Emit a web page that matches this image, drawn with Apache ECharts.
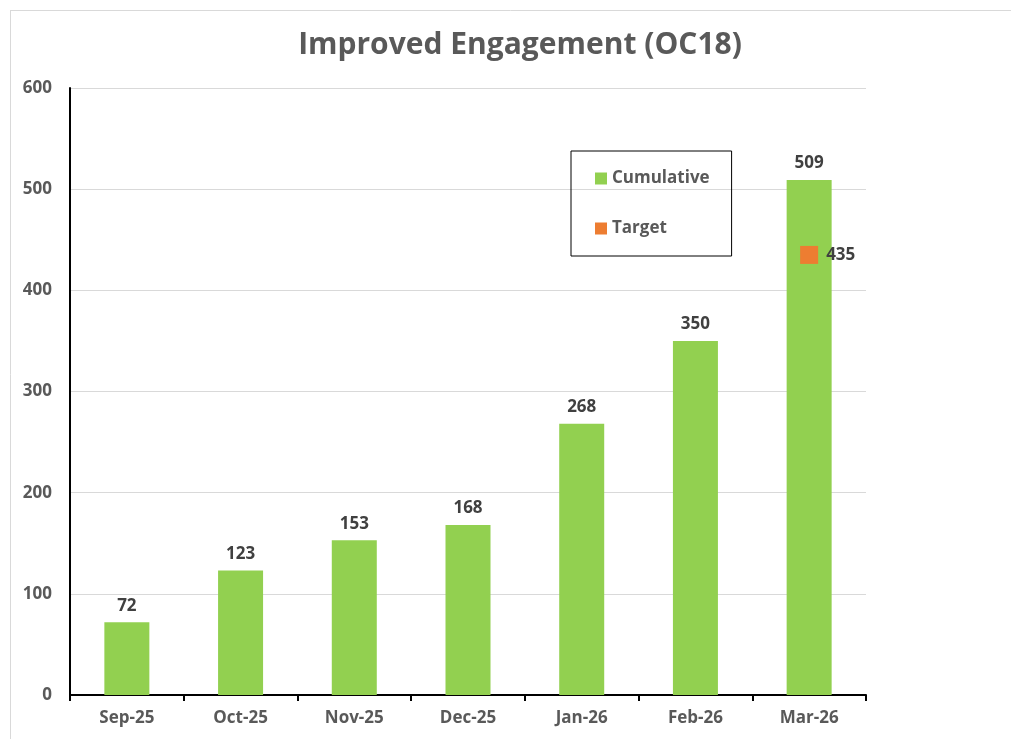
<!DOCTYPE html>
<html>
<head>
<meta charset="utf-8">
<script src="https://cdn.jsdelivr.net/npm/echarts@6/dist/echarts.min.js"></script>
<style>
  html, body { margin: 0; padding: 0; background: #fff; }
  #chart { width: 1011px; height: 739px; }
</style>
</head>
<body>
<div id="chart"></div>
<script>
const months = ['Sep-25', 'Oct-25', 'Nov-25', 'Dec-25', 'Jan-26', 'Feb-26', 'Mar-26']
const cumulative = [72, 123, 153, 168, 268, 350, 509]
const target = [null, null, null, null, null, null, 435]
const yTicks = { min: 0, max: 600, interval: 100 }

const FONT = '"Open Sans", sans-serif'

const chart = echarts.init(document.getElementById('chart'))
chart.setOption({
  backgroundColor: '#fff',
  animation: false,
  textStyle: { fontFamily: FONT },
  // thin frame round the picture (top and left edges are visible)
  graphic: [
    { type: 'line', shape: { x1: 10, y1: 10.5, x2: 1011, y2: 10.5 }, style: { stroke: '#d9d9d9', lineWidth: 1 } },
    { type: 'line', shape: { x1: 10.5, y1: 10, x2: 10.5, y2: 739 }, style: { stroke: '#d9d9d9', lineWidth: 1 } },
  ],
  title: {
    text: 'Improved Engagement (OC18)',
    left: 515,
    textAlign: 'center',
    top: 25,
    textStyle: { fontSize: 30, fontWeight: 'bold', color: '#595959', fontFamily: FONT },
  },
  legend: {
    data: ['Cumulative', 'Target'],
    orient: 'vertical',
    left: 571,
    top: 151,
    padding: [19, 22, 19, 24],
    itemGap: 33,
    itemWidth: 12,
    itemHeight: 12,
    icon: 'rect',
    borderColor: '#000',
    borderWidth: 1,
    textStyle: { fontSize: 17, fontWeight: 'bold', color: '#595959', fontFamily: FONT },
  },
  grid: { left: 70, right: 145, top: 88, bottom: 44 },
  xAxis: {
    type: 'category',
    data: months,
    axisLine: { lineStyle: { color: '#000', width: 2 } },
    axisTick: { show: true, length: 6, lineStyle: { color: '#000', width: 2 } },
    axisLabel: { margin: 15, fontSize: 17, fontWeight: 'bold', color: '#595959', fontFamily: FONT },
  },
  yAxis: {
    type: 'value',
    min: yTicks.min,
    max: yTicks.max,
    interval: yTicks.interval,
    axisLine: { show: true, lineStyle: { color: '#000', width: 2 } },
    axisTick: { show: false },
    axisLabel: { margin: 18, fontSize: 17, fontWeight: 'bold', color: '#595959', fontFamily: FONT },
    splitLine: { lineStyle: { color: '#d9d9d9', width: 1 } },
  },
  series: [
    {
      name: 'Cumulative',
      type: 'bar',
      data: cumulative,
      barWidth: 45,
      itemStyle: { color: '#92D050' },
      label: {
        show: true,
        position: 'top',
        distance: 8,
        fontSize: 17,
        fontWeight: 'bold',
        color: '#404040',
        fontFamily: FONT,
      },
    },
    {
      name: 'Target',
      type: 'scatter',
      data: target.map((v) => (v === null ? '-' : v)),
      symbol: 'rect',
      symbolSize: 18,
      itemStyle: { color: '#ED7D31', opacity: 1 },
      label: {
        show: true,
        position: 'right',
        distance: 8,
        fontSize: 17,
        fontWeight: 'bold',
        color: '#404040',
        fontFamily: FONT,
      },
      z: 5,
    },
  ],
})
</script>
</body>
</html>
